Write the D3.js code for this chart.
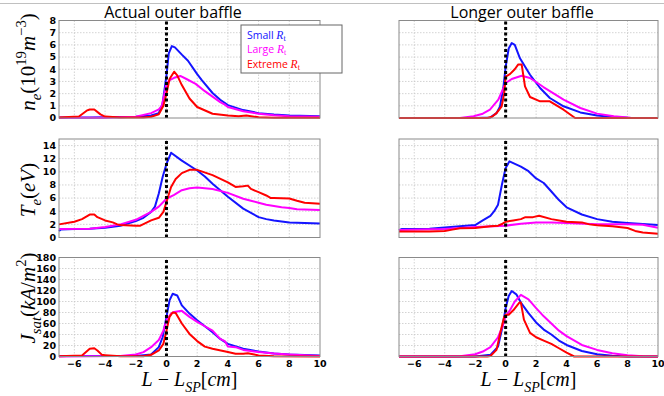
<!DOCTYPE html>
<html>
<head>
<meta charset="utf-8">
<script src="https://cdn.jsdelivr.net/npm/d3@7"></script>
<style>
  body { margin: 0; background: #fff; }
  svg { display: block; }
</style>
</head>
<body>
<div id="chart"></div>
<script>
// x positions are L - L_SP in cm
const neActualSmall = [[-7,0.05],[-5,0.05],[-3,0.08],[-2,0.1],[-1,0.2],[-0.5,0.4],[-0.25,1.2],[0,3.5],[0.15,5.3],[0.35,5.9],[0.55,5.8],[1,5.2],[1.4,4.7],[2,3.6],[2.3,3.1],[3,2.05],[3.5,1.5],[4,1.06],[5,0.65],[6,0.4],[7,0.28],[8,0.2],[10,0.15]];
const neActualLarge = [[-7,0.02],[-4,0.03],[-2,0.1],[-1,0.4],[-0.5,0.7],[-0.3,1.0],[-0.1,2.2],[0,2.8],[0.2,3.1],[0.5,3.3],[0.9,3.45],[1.3,3.2],[1.9,2.8],[2.5,2.2],[3,1.75],[3.5,1.3],[3.8,1.1],[4,0.9],[5,0.55],[6,0.35],[7,0.22],[8,0.15],[10,0.1]];
const neActualExtreme = [[-7,0.05],[-5.7,0.12],[-5.2,0.6],[-5,0.7],[-4.7,0.7],[-4.3,0.3],[-4,0.12],[-3,0.05],[-1.5,0.05],[-1,0.1],[-0.5,0.3],[-0.2,1.0],[0,2.0],[0.2,3.2],[0.5,3.8],[0.7,3.5],[1,2.7],[1.5,1.6],[2,0.9],[3,0.35],[4,0.2],[4.7,0.15],[5.2,0.2],[6,0.06],[7,0.03],[10,0.02]];

const neLongerSmall = [[-7,0],[-2,0],[-1,0.05],[-0.6,0.4],[-0.37,0.95],[-0.15,2.5],[0,4.2],[0.2,5.7],[0.4,6.15],[0.6,6.0],[0.94,4.9],[1.6,3.55],[2.26,2.46],[2.9,1.64],[3.8,0.96],[4.9,0.46],[6,0.2],[7,0.08],[8,0.02],[10,0]];
const neLongerLarge = [[-7,0],[-3,0],[-2.1,0.14],[-1.5,0.35],[-1.03,0.68],[-0.48,1.5],[-0.2,2.3],[0,2.87],[0.4,3.2],[1.05,3.47],[1.6,3.28],[2.48,2.54],[3.8,1.5],[4.9,0.82],[6,0.36],[7.1,0.14],[8.2,0.03],[9,0],[10,0]];
const neLongerExtreme = [[-7,0],[-1.2,0],[-0.9,0.1],[-0.6,0.4],[-0.26,0.96],[-0.1,2.0],[0,3.4],[0.28,3.6],[0.6,4.0],[0.83,4.4],[1.05,4.4],[1.27,2.6],[1.6,1.72],[2.26,1.37],[2.9,1.37],[3.8,0.68],[4.56,0],[10,0]];

const teActualSmall = [[-7,1.0],[-6.9,1.2],[-6,1.3],[-5,1.35],[-4,1.5],[-3,1.8],[-2,2.5],[-1.5,3.0],[-1,3.9],[-0.75,4.7],[-0.5,6.7],[-0.25,9.2],[0,11.2],[0.3,12.9],[1,11.7],[2,10.2],[2.5,9.3],[3,8.2],[4,6.2],[5,4.4],[6,3.1],[6.5,2.8],[7,2.6],[8,2.3],[9,2.2],[10,2.15]];
const teActualLarge = [[-7,1.3],[-5,1.35],[-4,1.6],[-3,2.0],[-2,2.7],[-1,3.9],[-0.5,4.7],[0,5.9],[0.5,6.5],[1,7.2],[1.5,7.5],[2,7.6],[3,7.4],[4,6.8],[5,5.9],[5.5,5.6],[6,5.3],[6.5,5.0],[7,4.8],[7.5,4.6],[8,4.5],[8.5,4.3],[10,4.2]];
const teActualExtreme = [[-7,2.0],[-6,2.4],[-5.5,2.8],[-5,3.5],[-4.7,3.5],[-4.5,3.1],[-4,2.6],[-3.5,2.3],[-3.2,2.0],[-3,1.9],[-2,1.8],[-1.7,1.8],[-1,2.6],[-0.5,3.0],[-0.2,3.9],[0,5.4],[0.3,7.7],[0.6,8.9],[1,9.8],[1.5,10.3],[2,10.3],[3,9.5],[4,8.4],[4.5,7.7],[5,7.8],[5.3,7.9],[5.5,7.4],[6,6.9],[6.5,6.4],[6.8,6.0],[7,6.0],[8,5.95],[8.5,5.6],[9,5.3],[10,5.15]];

const teLongerSmall = [[-7,1.1],[-6.8,1.3],[-5,1.35],[-3,1.7],[-2,1.9],[-1.5,2.6],[-1,3.3],[-0.75,4.0],[-0.5,5.0],[-0.25,8.0],[0,10.6],[0.25,11.6],[1,10.8],[1.5,10.1],[2,9.0],[2.5,8.3],[3,7.0],[3.5,5.7],[4,4.6],[5,3.5],[6,2.8],[7,2.4],[8,2.2],[10,1.9]];
const teLongerLarge = [[-7,1.15],[-4,1.3],[-2,1.6],[0,1.8],[1,2.1],[2,2.3],[3,2.3],[4,2.2],[6,2.0],[8,2.0],[9,1.95],[9.5,1.7],[10,1.5]];
const teLongerExtreme = [[-7,0.9],[-5,0.9],[-4,1.0],[-3.5,1.2],[-3,1.4],[-2,1.45],[-1,1.7],[-0.5,1.8],[-0.2,2.1],[0,2.4],[0.5,2.6],[1,2.8],[1.3,3.1],[1.8,3.1],[2.2,3.3],[3,2.8],[4,2.4],[5,2.3],[5.5,2.0],[6,1.85],[7,1.7],[8,1.45],[8.5,1.0],[9,0.76],[10,0.56]];

const jsActualSmall = [[-7,0.8],[-4,0.8],[-2,1],[-1,3.6],[-0.5,17],[-0.25,35],[0,72],[0.2,102],[0.4,114],[0.7,111],[1,93],[1.5,78],[2,66],[2.5,55],[3,44],[3.5,32],[4,23],[5,14],[6,9],[7,5.5],[8,3.6],[10,2]];
const jsActualLarge = [[-7,0],[-3,1],[-2,3.6],[-1.5,8],[-1,17],[-0.5,30],[-0.2,47],[0,66],[0.3,78],[0.5,81],[1,83],[1.5,72],[2,63],[2.5,55],[3,47],[3.5,32],[3.8,28],[4,18],[4.5,17],[5,12],[6,8],[7,5.5],[8,3.6],[10,1]];
const jsActualExtreme = [[-7,0.5],[-5.5,2],[-5,14],[-4.7,15],[-4.5,11],[-4.2,3],[-4,2.5],[-3,0.6],[-1.5,0.6],[-1,3],[-0.5,11],[-0.2,23],[0,47],[0.2,72],[0.4,80],[0.6,79],[1,60],[1.5,41],[2,28],[2.5,18],[3,14],[4,8],[4.5,5],[5,5],[5.3,6],[5.8,3],[6,2],[7,0.6],[10,0]];

const jsLongerSmall = [[-7,0],[-2,0],[-1,3],[-0.5,18],[-0.2,55],[0,88],[0.2,110],[0.4,119],[0.7,113],[1,98],[1.5,79],[2,62],[2.5,49],[3,40],[3.5,29],[4,21],[5,10],[6,4],[7,1.2],[8,0],[10,0]];
const jsLongerLarge = [[-7,0],[-4,0],[-3,0.6],[-2,4],[-1.5,9],[-1,17],[-0.5,35],[-0.2,55],[0,73],[0.3,85],[0.6,100],[1,112],[1.5,104],[2,88],[2.5,73],[3,60],[3.5,47],[4,37],[5,21],[6,12],[7,6],[8,2.4],[9,0.6],[10,0]];
const jsLongerExtreme = [[-7,0],[-1.2,0],[-1,1],[-0.6,12],[-0.3,49],[-0.1,72],[0,76],[0.2,76],[0.5,84],[0.9,98],[1.0,98],[1.2,67],[1.6,43],[2,35],[2.5,29],[3,23],[3.5,15],[4,7],[4.5,0],[10,0]];

const seriesNames = ['Small', 'Large', 'Extreme'];
const seriesColors = ['#1414ff', '#ff00ff', '#ff0000'];
const xTicks = [-6, -4, -2, 0, 2, 4, 6, 8, 10];
const neTicks = [0, 1, 2, 3, 4, 5, 6, 7, 8];
const teTicks = [0, 2, 4, 6, 8, 10, 12, 14];
const jsTicks = [0, 20, 40, 60, 80, 100, 120, 140, 160, 180];
const columnTitles = ['Actual outer baffle', 'Longer outer baffle'];

const W = 664, H = 396;
const colRanges = [[59, 320], [399, 658]];
const titleCenters = [173, 522];
const rows = [
    { range: [118, 20.5], domain: [0, 8], ticks: neTicks,
      data: [[neActualSmall, neActualLarge, neActualExtreme], [neLongerSmall, neLongerLarge, neLongerExtreme]] },
    { range: [237.5, 139], domain: [0, 15], ticks: teTicks,
      data: [[teActualSmall, teActualLarge, teActualExtreme], [teLongerSmall, teLongerLarge, teLongerExtreme]] },
    { range: [356.5, 257.5], domain: [0, 180], ticks: jsTicks,
      data: [[jsActualSmall, jsActualLarge, jsActualExtreme], [jsLongerSmall, jsLongerLarge, jsLongerExtreme]] }
];

const svg = d3.select('#chart').append('svg')
    .attr('width', W).attr('height', H)
    .style('font-family', '"DejaVu Sans", sans-serif');

// slide rule at the top
svg.append('line')
    .attr('x1', 0).attr('x2', W).attr('y1', 3.5).attr('y2', 3.5)
    .attr('stroke', '#c0c0c0').attr('stroke-width', 1);

// helper to write simple math text with sub/superscripts
const mathText = (g, parts, size) => {
    const t = g.append('text')
        .style('font-family', '"Liberation Serif", "DejaVu Serif", serif')
        .style('font-size', size + 'px')
        .attr('fill', '#000');
    let shift = 0;
    parts.forEach(p => {
        let target = p.sub ? size * 0.3 : p.sup ? -size * 0.42 : 0;
        t.append('tspan')
            .attr('dy', target - shift)
            .style('font-style', p.i ? 'italic' : 'normal')
            .style('font-size', (p.sub || p.sup) ? (size * 0.7) + 'px' : null)
            .text(p.t);
        shift = target;
    });
    return t;
};

const line = d3.line().curve(d3.curveLinear);

rows.forEach((row, r) => {
    const y = d3.scaleLinear().domain(row.domain).range(row.range);
    colRanges.forEach((cr, c) => {
        const x = d3.scaleLinear().domain([-7, 10]).range(cr);
        const g = svg.append('g');

        // grid
        g.selectAll('.vg').data(xTicks.filter(d => d < 10))
            .enter().append('line')
            .attr('x1', d => x(d)).attr('x2', d => x(d))
            .attr('y1', row.range[0]).attr('y2', row.range[1])
            .attr('stroke', '#c8c8c8').attr('stroke-width', 0.8)
            .attr('stroke-dasharray', '1.5,1.5');
        g.selectAll('.hg').data(row.ticks.filter(d => d > 0 && d < row.domain[1]))
            .enter().append('line')
            .attr('x1', cr[0]).attr('x2', cr[1])
            .attr('y1', d => y(d)).attr('y2', d => y(d))
            .attr('stroke', '#c8c8c8').attr('stroke-width', 0.8)
            .attr('stroke-dasharray', '1.5,1.5');

        // curves
        row.data[c].forEach((pts, s) => {
            g.append('path')
                .datum(pts)
                .attr('d', line.x(d => x(d[0])).y(d => y(d[1])))
                .attr('fill', 'none')
                .attr('stroke', seriesColors[s])
                .attr('stroke-width', 2)
                .attr('stroke-linejoin', 'round');
        });

        // separatrix marker
        g.append('line')
            .attr('x1', x(0)).attr('x2', x(0))
            .attr('y1', row.range[0]).attr('y2', row.range[1])
            .attr('stroke', '#000').attr('stroke-width', 3)
            .attr('stroke-dasharray', '3,2.5');

        // frame
        g.append('rect')
            .attr('x', cr[0]).attr('y', row.range[1])
            .attr('width', cr[1] - cr[0]).attr('height', row.range[0] - row.range[1])
            .attr('fill', 'none').attr('stroke', '#8a8a8a').attr('stroke-width', 1);

        if (c === 0) {
            g.selectAll('.yt').data(row.ticks).enter().append('text')
                .attr('x', cr[0] - 3).attr('y', d => y(d))
                .attr('dy', '0.35em')
                .attr('text-anchor', 'end')
                .style('font-size', '9.5px').style('font-weight', 'bold')
                .text(d => d);
        }
        if (r === 2) {
            g.selectAll('.xt').data(xTicks).enter().append('text')
                .attr('x', d => x(d)).attr('y', row.range[0] + 10)
                .attr('text-anchor', 'middle')
                .style('font-size', '9.5px').style('font-weight', 'bold')
                .text(d => d < 0 ? '\u2212' + (-d) : d);
            mathText(g, [{ t: 'L', i: true }, { t: ' \u2212 ' }, { t: 'L', i: true }, { t: 'SP', i: true, sub: true }, { t: '[' }, { t: 'cm', i: true }, { t: ']' }], 20)
                .attr('x', (cr[0] + cr[1]) / 2).attr('y', 386)
                .attr('text-anchor', 'middle');
        }
        if (r === 0) {
            g.append('text')
                .attr('x', titleCenters[c]).attr('y', 17.5)
                .attr('text-anchor', 'middle')
                .style('font-family', '"Open Sans", sans-serif')
                .style('font-size', '16px')
                .text(columnTitles[c]);
        }
    });
});

// y axis labels
const yLabels = [
    { cy: 62, parts: [{ t: 'n', i: true }, { t: 'e', i: true, sub: true }, { t: '(10' }, { t: '19', sup: true }, { t: 'm', i: true }, { t: '\u22123', sup: true }, { t: ')' }] },
    { cy: 190, parts: [{ t: 'T', i: true }, { t: 'e', i: true, sub: true }, { t: '(' }, { t: 'eV', i: true }, { t: ')' }] },
    { cy: 298, parts: [{ t: 'J', i: true }, { t: 'sat', i: true, sub: true }, { t: '(' }, { t: 'kA', i: true }, { t: '/' }, { t: 'm', i: true }, { t: '2', sup: true }, { t: ')' }] }
];
yLabels.forEach(l => {
    const g = svg.append('g').attr('transform', 'translate(35,' + l.cy + ') rotate(-90)');
    mathText(g, l.parts, 21).attr('x', 0).attr('y', 0).attr('text-anchor', 'middle');
});

// legend
const legend = svg.append('g');
legend.append('rect')
    .attr('x', 241).attr('y', 25).attr('width', 101).attr('height', 48)
    .attr('fill', '#fff').attr('stroke', '#666').attr('stroke-width', 1);
seriesNames.forEach((n, i) => {
    const t = legend.append('text')
        .attr('x', 247).attr('y', 38.5 + i * 14.5)
        .attr('fill', seriesColors[i])
        .style('font-family', '"Open Sans", sans-serif')
        .style('font-size', '10.5px');
    t.append('tspan').text(n + ' ');
    t.append('tspan').style('font-family', '"Liberation Serif", serif').style('font-style', 'italic').style('font-size', '11.5px').text('R');
    t.append('tspan').attr('dy', 2).style('font-family', '"Liberation Serif", serif').style('font-size', '8px').text('t');
});
</script>
</body>
</html>
